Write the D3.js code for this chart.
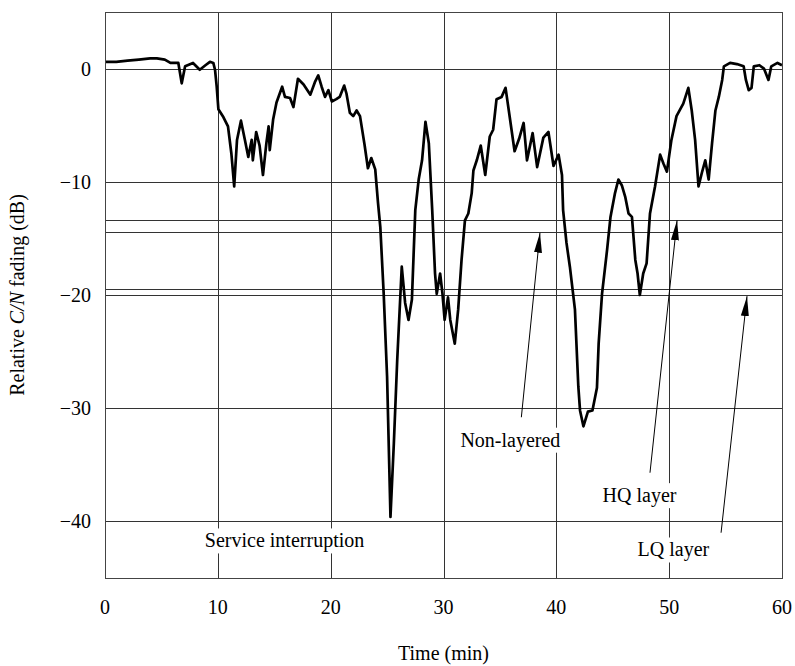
<!DOCTYPE html>
<html><head><meta charset="utf-8">
<script src="https://cdn.jsdelivr.net/npm/d3@7"></script>
<style>body{margin:0;background:#fff}svg{display:block}text{font-family:"Liberation Serif","Times New Roman",serif;fill:#000}</style>
</head><body><svg id="c" width="795" height="666"></svg>
<script>
const timeMin = [0,1.0,2.0,3.0,4.0,4.6,5.3,5.8,6.5,6.8,7.1,7.8,8.4,8.9,9.3,9.6,9.75,9.9,10.05,10.5,10.9,11.2,11.45,11.7,12.05,12.4,12.7,13.0,13.1,13.4,13.7,14.0,14.3,14.5,14.6,14.9,15.2,15.7,15.95,16.4,16.7,17.1,17.6,18.2,18.6,18.9,19.2,19.5,19.8,20.1,20.5,20.8,21.2,21.4,21.7,22.0,22.3,22.6,23.0,23.3,23.6,23.95,24.2,24.4,24.7,25.0,25.3,25.6,25.9,26.3,26.6,26.9,27.2,27.5,27.8,28.1,28.4,28.7,29.0,29.25,29.4,29.7,29.9,30.1,30.4,30.6,31.0,31.3,31.6,31.9,32.2,32.5,32.65,32.95,33.3,33.7,34.1,34.4,34.7,35.15,35.5,35.9,36.3,36.7,37.1,37.4,37.9,38.3,38.85,39.3,39.75,40.2,40.5,40.6,40.9,41.2,41.65,41.95,42.1,42.4,42.8,43.2,43.6,43.75,44.05,44.5,44.8,45.2,45.5,45.8,46.1,46.4,46.7,47.0,47.2,47.4,47.7,48.0,48.3,48.75,49.2,49.5,49.8,50.2,50.65,51.25,51.7,52.0,52.3,52.6,52.9,53.2,53.5,53.8,54.1,54.4,54.7,54.85,55.4,56.0,56.6,56.8,57.05,57.3,57.5,58.0,58.4,58.8,59.05,59.6,60.0];
const fadingDb = [0.6,0.6,0.7,0.8,0.9,0.9,0.8,0.5,0.5,-1.3,0.2,0.5,-0.1,0.3,0.6,0.5,-0.1,-1.6,-3.6,-4.3,-5.1,-7.5,-10.4,-6.3,-4.6,-6.3,-7.8,-6.3,-8.1,-5.6,-6.8,-9.4,-6.6,-5.1,-7.2,-4.5,-3.0,-1.6,-2.5,-2.6,-3.4,-0.9,-1.4,-2.3,-1.2,-0.6,-1.6,-2.5,-1.9,-2.9,-2.7,-2.5,-1.5,-2.2,-3.9,-4.2,-3.7,-4.2,-6.7,-8.8,-7.9,-8.9,-11.9,-14.0,-19.9,-27.2,-39.6,-33.1,-25.7,-17.5,-20.7,-22.2,-20.4,-12.5,-9.8,-8.1,-4.7,-6.6,-12.5,-18.1,-19.9,-18.1,-19.8,-22.2,-20.2,-22.2,-24.3,-21.3,-16.9,-13.4,-12.8,-11.0,-9.0,-8.1,-6.8,-9.4,-6.0,-5.4,-2.7,-2.5,-1.7,-4.5,-7.3,-6.2,-4.8,-8.1,-5.7,-8.7,-6.1,-5.6,-8.6,-7.6,-9.4,-12.5,-15.4,-17.5,-21.3,-28.1,-30.2,-31.6,-30.3,-30.2,-28.2,-24.3,-19.9,-16.0,-13.1,-11.0,-9.8,-10.3,-11.3,-12.8,-13.1,-16.9,-18.1,-20.0,-18.1,-17.2,-12.8,-10.4,-7.6,-8.4,-9.1,-6.3,-4.2,-3.1,-1.7,-3.7,-6.3,-10.4,-9.2,-8.1,-9.8,-6.6,-3.7,-2.5,-1.0,0.2,0.5,0.4,0.2,-1.0,-1.9,-1.7,0.2,0.3,0.0,-1.0,0.2,0.5,0.3];
const xTicks = [0,10,20,30,40,50,60];
const yTicks = [0,-10,-20,-30,-40];
const thresholdLevels = [-13.4,-14.4,-19.5];
const labelTexts = ["Service interruption","Non-layered","HQ layer","LQ layer"];
const labelT = [8.85,31.5,44.1,47.2];
const labelV = [-42.3,-33.4,-38.3,-43.1];
const arrowFromT = [36.9,48.3,54.6];
const arrowFromV = [-30.8,-35.7,-41.0];
const arrowToT = [38.55,50.7,56.9];
const arrowToV = [-14.5,-13.4,-20.1];

const svg = d3.select("#c");
const x = d3.scaleLinear().domain([0,60]).range([105,782]);
const y = d3.scaleLinear().domain([5,-45]).range([12,578]);
const FS = 20;

svg.append("defs").append("marker").attr("id","ah").attr("viewBox","0 0 20 10")
  .attr("refX",20).attr("refY",5).attr("markerWidth",20).attr("markerHeight",10)
  .attr("markerUnits","userSpaceOnUse").attr("orient","auto")
  .append("path").attr("d","M0,1 L20,5 L0,9 Z").attr("fill","#000");

const g = svg.append("g");
g.selectAll("line.h").data(yTicks).join("line").attr("class","h")
  .attr("x1",x(0)).attr("x2",x(60)).attr("y1",d=>Math.round(y(d))+0.5).attr("y2",d=>Math.round(y(d))+0.5)
  .attr("stroke","#333").attr("stroke-width",1);
g.selectAll("line.v").data(xTicks.slice(1,-1)).join("line").attr("class","v")
  .attr("y1",y(5)).attr("y2",y(-45)).attr("x1",d=>Math.round(x(d))+0.5).attr("x2",d=>Math.round(x(d))+0.5)
  .attr("stroke","#333").attr("stroke-width",1);
g.selectAll("line.t").data(thresholdLevels).join("line").attr("class","t")
  .attr("x1",x(0)).attr("x2",x(60)).attr("y1",d=>Math.round(y(d))+0.5).attr("y2",d=>Math.round(y(d))+0.5)
  .attr("stroke","#333").attr("stroke-width",1);

const pts = timeMin.map((t,i)=>[t,fadingDb[i]]);
g.append("path").datum(pts).attr("fill","none").attr("stroke","#000").attr("stroke-width",2.7)
  .attr("stroke-linejoin","round")
  .attr("d",d3.line().x(d=>x(d[0])).y(d=>y(d[1])));

g.selectAll("line.a").data(arrowFromT).join("line").attr("class","a")
  .attr("x1",(d,i)=>x(d)).attr("y1",(d,i)=>y(arrowFromV[i]))
  .attr("x2",(d,i)=>x(arrowToT[i])).attr("y2",(d,i)=>y(arrowToV[i]))
  .attr("stroke","#000").attr("stroke-width",1).attr("marker-end","url(#ah)");

labelTexts.forEach((s,i)=>{
  const lg = g.append("g");
  const t = lg.append("text").attr("x",x(labelT[i])).attr("y",y(labelV[i])).attr("font-size",FS).text(s);
  const bb = t.node().getBBox();
  lg.insert("rect","text").attr("x",bb.x-3).attr("y",bb.y-1).attr("width",bb.width+6).attr("height",bb.height+2).attr("fill","#fff");
});

svg.append("rect").attr("x",x(0)+0.5).attr("y",y(5)+0.5).attr("width",x(60)-x(0)).attr("height",y(-45)-y(5))
  .attr("fill","none").attr("stroke","#444").attr("stroke-width",1);

svg.selectAll("text.xt").data(xTicks).join("text").attr("class","xt")
  .attr("x",d=>x(d)).attr("y",614).attr("text-anchor","middle").attr("font-size",FS).text(d=>d);
svg.selectAll("text.yt").data(yTicks).join("text").attr("class","yt")
  .attr("x",91).attr("y",d=>y(d)+7).attr("text-anchor","end").attr("font-size",FS)
  .text(d=>d<0?"\u2212"+Math.abs(d):d);
svg.append("text").attr("x",x(30)).attr("y",660).attr("text-anchor","middle").attr("font-size",FS).text("Time (min)");
const yt = svg.append("text").attr("transform","translate(24,"+((y(5)+y(-45))/2)+") rotate(-90)")
  .attr("text-anchor","middle").attr("font-size",FS);
yt.append("tspan").text("Relative ");
yt.append("tspan").attr("font-style","italic").text("C/N");
yt.append("tspan").text(" fading (dB)");
</script></body></html>
